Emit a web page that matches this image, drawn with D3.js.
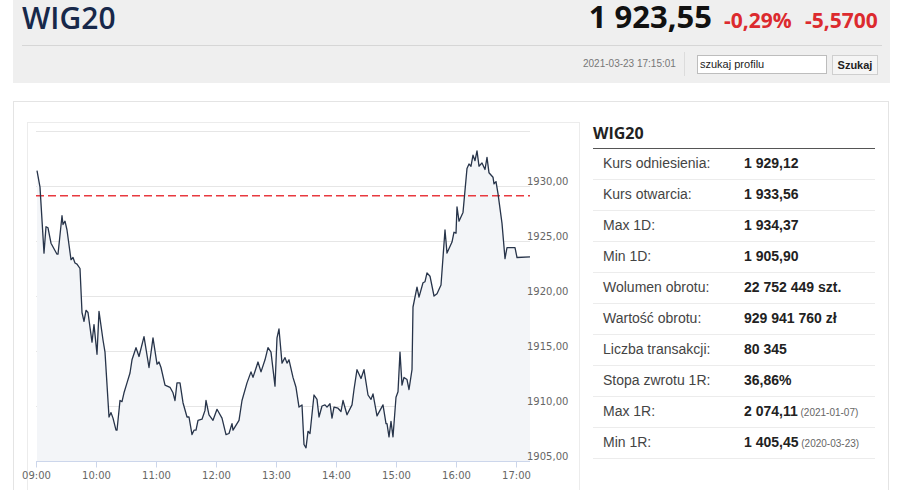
<!DOCTYPE html>
<html>
<head>
<meta charset="utf-8">
<script src="https://cdn.jsdelivr.net/npm/d3@7"></script>
<style>
  body { margin: 0; background: #fff; }
  svg { display: block; }
</style>
</head>
<body>
<svg id="page" width="909" height="490"></svg>
<script>
// intraday quotes of WIG20, 2021-03-23
const times = ["09:01","09:04","09:08","09:10","09:12","09:15","09:18","09:21","09:22","09:26","09:27","09:29","09:31","09:35","09:37","09:39","09:41","09:44","09:46","09:48","09:50","09:52","09:56","09:58",
  "10:01","10:03","10:07","10:09","10:13","10:15","10:17","10:20","10:21","10:24","10:26","10:28","10:31","10:34","10:36","10:40","10:43","10:48","10:53","10:57",
  "11:01","11:03","11:05","11:09","11:14","11:17","11:19","11:21","11:24","11:27","11:31","11:33","11:36","11:38","11:40","11:42","11:46","11:49","11:50","11:53","11:57",
  "12:01","12:06","12:10","12:13","12:16","12:17","12:21","12:23","12:26","12:31","12:35","12:37","12:42","12:45","12:49","12:52","12:55","12:59",
  "13:01","13:03","13:06","13:09","13:11","13:13","13:17","13:20","13:23","13:26","13:28","13:30","13:32","13:34","13:38","13:41","13:43","13:46","13:49","13:51","13:54","13:56","13:58",
  "14:02","14:05","14:07","14:11","14:16","14:18","14:21","14:25","14:28","14:32","14:35","14:37","14:41","14:44","14:47","14:50","14:51","14:53","14:55","14:57",
  "15:00","15:02","15:04","15:06","15:08","15:11","15:13","15:16","15:17","15:21","15:23","15:27","15:29","15:31","15:34","15:38","15:41","15:45","15:49","15:51","15:56","15:58",
  "16:00","16:01","16:03","16:07","16:11","16:13","16:15","16:17","16:19","16:21","16:23","16:26","16:29","16:31","16:33","16:37","16:38","16:40","16:42","16:46","16:49","16:51","16:59",
  "17:01","17:14"];
const values = [1931.4,1929.9,1923.9,1926.3,1926.2,1924.8,1924.3,1923.8,1923.8,1927.3,1926.5,1926.8,1926.0,1923.3,1923.5,1923.0,1922.9,1922.5,1918.5,1917.7,1918.7,1918.5,1915.8,1917.4,
  1914.7,1918.6,1916.0,1914.9,1909.0,1909.4,1908.9,1907.8,1907.8,1910.5,1910.4,1911.2,1912.1,1913.0,1914.2,1915.3,1914.5,1916.3,1913.5,1916.2,
  1913.8,1914.0,1913.5,1911.9,1911.7,1911.2,1910.5,1912.1,1912.1,1910.3,1909.0,1909.0,1907.4,1907.8,1907.8,1908.7,1908.8,1909.6,1910.5,1909.2,1908.7,
  1909.7,1908.9,1907.4,1907.5,1908.4,1907.8,1908.4,1908.7,1910.5,1912.1,1913.1,1912.6,1914.0,1913.1,1914.2,1915.3,1914.9,1911.8,
  1916.2,1917.0,1913.9,1914.4,1913.9,1914.2,1912.6,1911.7,1909.9,1910.1,1906.5,1906.2,1907.7,1907.5,1911.0,1910.6,1909.0,1910.0,1910.1,1909.9,1910.2,1908.9,1909.9,
  1909.8,1909.5,1910.5,1909.2,1910.1,1911.5,1913.3,1912.5,1913.3,1911.0,1910.6,1911.1,1909.1,1909.6,1910.1,1908.4,1908.4,1907.2,1908.6,1907.2,
  1910.8,1911.3,1914.9,1911.9,1912.6,1912.4,1911.5,1913.3,1919.0,1920.8,1919.9,1921.2,1921.3,1922.1,1921.8,1920.0,1920.2,1921.0,1926.0,1923.9,1924.9,1925.8,
  1925.7,1928.1,1926.8,1927.6,1931.6,1932.0,1931.8,1932.8,1932.3,1933.2,1931.8,1932.1,1931.5,1932.6,1931.2,1930.8,1930.2,1930.4,1929.3,1926.6,1923.4,1924.4,1924.4,
  1923.5,1923.55];

const referenceLevel = 1929.12;
const yTicks = [1905, 1910, 1915, 1920, 1925, 1930];
const yGrid = [1905, 1910, 1915, 1920, 1925, 1930, 1935];
const xTicks = ["09:00","10:00","11:00","12:00","13:00","14:00","15:00","16:00","17:00"];

const statLabels = ["Kurs odniesienia:","Kurs otwarcia:","Max 1D:","Min 1D:","Wolumen obrotu:","Wartość obrotu:","Liczba transakcji:","Stopa zwrotu 1R:","Max 1R:","Min 1R:"];
const statValues = ["1 929,12","1 933,56","1 934,37","1 905,90","22 752 449 szt.","929 941 760 zł","80 345","36,86%","2 074,11","1 405,45"];
const statDates = ["","","","","","","","","(2021-01-07)","(2020-03-23)"];

const svg = d3.select("#page");
const parseTime = d3.timeParse("%Y-%m-%d %H:%M");
const day = "2021-03-23 ";
const data = times.map((t, i) => ({ t: parseTime(day + t), v: values[i] }));

// --- header strip ---
svg.append("rect").attr("x", 13).attr("y", 0).attr("width", 877).attr("height", 83).attr("fill", "#efefef");
svg.append("line").attr("x1", 22).attr("x2", 882).attr("y1", 45.5).attr("y2", 45.5).attr("stroke", "#d6d6d6");
svg.append("text").attr("x", 22).attr("y", 29)
  .style("font", "600 30px 'Open Sans'").attr("fill", "#17284a").text("WIG20");
svg.append("text").attr("x", 712).attr("y", 28).attr("text-anchor", "end")
  .style("font", "700 31px 'Open Sans'").attr("fill", "#111").text("1 923,55");
svg.append("text").attr("x", 724).attr("y", 28)
  .style("font", "700 21px 'Open Sans'").attr("fill", "#dc2a2e").text("-0,29%");
svg.append("text").attr("x", 805).attr("y", 28)
  .style("font", "700 21px 'Open Sans'").attr("fill", "#dc2a2e").text("-5,5700");

svg.append("text").attr("x", 583).attr("y", 67)
  .style("font", "10px 'Liberation Sans'").attr("fill", "#777").text("2021-03-23 17:15:01");
svg.append("line").attr("x1", 684.5).attr("x2", 684.5).attr("y1", 52).attr("y2", 76).attr("stroke", "#dcdcdc");
svg.append("rect").attr("x", 697.5).attr("y", 55.5).attr("width", 129).attr("height", 18)
  .attr("fill", "#fff").attr("stroke", "#bdbdbd");
svg.append("text").attr("x", 700).attr("y", 68)
  .style("font", "11px 'Liberation Sans'").attr("fill", "#222").text("szukaj profilu");
svg.append("rect").attr("x", 832.5).attr("y", 55.5).attr("width", 45).attr("height", 19)
  .attr("fill", "#f5f5f5").attr("stroke", "#cfcfcf");
svg.append("text").attr("x", 855).attr("y", 69).attr("text-anchor", "middle")
  .style("font", "bold 11px 'Liberation Sans'").attr("fill", "#222").text("Szukaj");

// --- panel frames ---
svg.append("rect").attr("x", 13.5).attr("y", 101.5).attr("width", 875).attr("height", 400)
  .attr("fill", "#fff").attr("stroke", "#e4e4e4");
svg.append("rect").attr("x", 27.5).attr("y", 122.5).attr("width", 552).attr("height", 380)
  .attr("fill", "#fff").attr("stroke", "#ececec");

// --- chart ---
const x = d3.scaleTime()
  .domain([parseTime(day + "09:00"), parseTime(day + "17:14")])
  .range([36, 530]);
const y = d3.scaleLinear().domain([1905, 1935]).range([461, 131]);

const plFormat = d3.formatLocale({ decimal: ",", thousands: " ", grouping: [3], currency: ["", " zł"] }).format(".2f");

svg.append("g").selectAll("line").data(yGrid).join("line")
  .attr("x1", 36).attr("x2", 530)
  .attr("y1", d => Math.round(y(d)) + 0.5).attr("y2", d => Math.round(y(d)) + 0.5)
  .attr("stroke", "#e6e6e6");

const area = d3.area().x(d => x(d.t)).y0(y(1905)).y1(d => y(d.v));
const line = d3.line().x(d => x(d.t)).y(d => y(d.v));

svg.append("path").datum(data).attr("d", area).attr("fill", "#f3f5f8");

svg.append("line")
  .attr("x1", 36).attr("x2", 530)
  .attr("y1", y(referenceLevel)).attr("y2", y(referenceLevel))
  .attr("stroke", "#e8393f").attr("stroke-width", 1.5).attr("stroke-dasharray", "8,4");

svg.append("path").datum(data).attr("d", line)
  .attr("fill", "none").attr("stroke", "#27344a").attr("stroke-width", 1.3).attr("stroke-linejoin", "round");

// x axis
const xAxis = svg.append("g").attr("transform", "translate(0,461.5)")
  .call(d3.axisBottom(x)
    .tickValues(xTicks.map(t => parseTime(day + t)))
    .tickFormat(d3.timeFormat("%H:%M"))
    .tickSize(6).tickSizeOuter(0));
xAxis.select(".domain").attr("stroke", "#ccd6eb").attr("d", "M36,0H530");
xAxis.selectAll(".tick line").attr("stroke", "#ccd6eb");
xAxis.selectAll(".tick text").attr("y", 17).attr("dy", 0)
  .style("font", "10px 'DejaVu Sans'").attr("fill", "#666");

// y axis labels on the right
const yAxis = svg.append("g").attr("transform", "translate(527,0)")
  .call(d3.axisRight(y).tickValues(yTicks).tickFormat(plFormat).tickSize(0).tickPadding(0));
yAxis.select(".domain").remove();
yAxis.selectAll(".tick text").attr("dy", "-0.15em")
  .style("font", "10px 'DejaVu Sans'").attr("fill", "#666");

// --- stats table ---
const table = svg.append("g");
table.append("text").attr("x", 593).attr("y", 139)
  .style("font", "700 16px 'Open Sans'").attr("fill", "#222").text("WIG20");
table.append("line").attr("x1", 593).attr("x2", 875).attr("y1", 148.5).attr("y2", 148.5)
  .attr("stroke", "#555");

const rowY = d3.scaleLinear().domain([0, 1]).range([163, 194]);
const rows = table.selectAll("g.row").data(statLabels).join("g").attr("class", "row");
rows.append("line")
  .attr("x1", 593).attr("x2", 875)
  .attr("y1", (d, i) => Math.round(rowY(i) + 16) + 0.5).attr("y2", (d, i) => Math.round(rowY(i) + 16) + 0.5)
  .attr("stroke", "#ececec");
rows.append("text").attr("x", 603).attr("y", (d, i) => rowY(i) + 5)
  .style("font", "14px 'Liberation Sans'").attr("fill", "#444").text(d => d);
const vals = rows.append("text").attr("x", 744).attr("y", (d, i) => rowY(i) + 5)
  .style("font", "bold 14px 'Liberation Sans'").attr("fill", "#222");
vals.append("tspan").text((d, i) => statValues[i]);
vals.append("tspan").style("font", "10px 'Liberation Sans'").attr("fill", "#666")
  .text((d, i) => statDates[i] ? " " + statDates[i] : "");
</script>
</body>
</html>
